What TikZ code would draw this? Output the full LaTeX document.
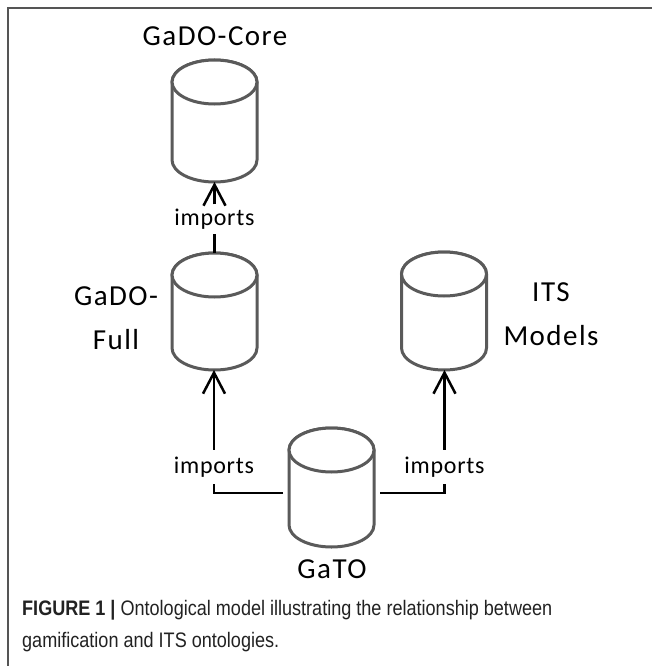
\documentclass[tikz,border=0pt]{standalone}
\usepackage{fontspec}
\setmainfont{Carlito}
\newfontfamily\capfont{Liberation Sans}[FakeStretch=0.86]
\usetikzlibrary{arrows.meta,calc}
\definecolor{cylgray}{HTML}{5A5A5A}
\definecolor{framegray}{HTML}{555555}
\definecolor{captext}{HTML}{222222}
\newcommand\dbcyl[4]{% name, cx, top, bottom
  \node[minimum width=85pt, minimum height={(#4-#3)*1pt}, inner sep=0pt, outer sep=0pt] (#1) at (#2,{(#3+#4)/2}) {};
  \path[cyl] ({#2-42.5},{#3+22}) -- ({#2-42.5},{#4-22})
     arc[start angle=180,end angle=360,x radius=42.5pt,y radius=22pt]
     -- ({#2+42.5},{#3+22})
     arc[start angle=0,end angle=180,x radius=42.5pt,y radius=22pt] -- cycle;
  \draw[cyl] (#2,{#3+22}) ellipse[x radius=42.5pt,y radius=22pt];
}
\begin{document}
\begin{tikzpicture}[x=1pt,y=-1pt,
  cyl/.style={draw=cylgray, line width=3pt, fill=white},
  conn/.style={draw=black, line width=2.5pt},
  arr/.style={-{Straight Barb[length=21pt,width=22pt]}},
  big/.style={font=\fontsize{29}{44}\selectfont\addfontfeatures{LetterSpace=5}, align=center, inner sep=0pt},
  imp/.style={font=\fontsize{24}{28}\selectfont\addfontfeatures{LetterSpace=3}, fill=white, text height=17pt, text depth=5pt, inner xsep=2pt},
  capstyle/.style={font=\capfont\fontsize{21}{24}\selectfont, text=captext, inner sep=0pt}
]
\useasboundingbox (0,0) rectangle (652,666);
\fill[white] (0,0) rectangle (652,666);
\draw[framegray, line width=2pt] (8,666) -- (8,8) -- (652,8);

\dbcyl{core}{214.5}{60}{182}
\dbcyl{full}{214.5}{253}{370}
\dbcyl{its}{444}{252}{370}
\dbcyl{gato}{331.5}{428}{547}

\node[big, anchor=base] (tcore) at (215,46) {GaDO-Core};
\node[big] (tfull) at (116,318) {GaDO-\\Full};
\node[big] (tits) at (551,314) {ITS\\Models};
\node[big, anchor=base] (tgato) at (332,578) {GaTO};

\node[imp, inner ysep=3.5pt] (impT) at (214.5,219) {imports};
\node[imp, inner ysep=6pt] (impL) at (214,467) {imports};
\node[imp, inner ysep=6pt] (impR) at (444.5,467) {imports};

\draw[conn] (full.north) -- (impT.south);
\draw[conn, arr] (impT.north) -- (core.south);
\draw[conn] ([shift={(-6pt,-5.5pt)}]gato.west) -| (impL.south);
\draw[conn, arr] (impL.north) -- (impL.north |- full.south);
\draw[conn] ([shift={(6pt,-5.5pt)}]gato.east) -| (impR.south);
\draw[conn, arr] (impR.north) -- (impR.north |- its.south);

\node[capstyle, anchor=base west] (cap1) at (22,615) {\textbf{FIGURE 1 |} Ontological model illustrating the relationship between};
\node[capstyle, anchor=base west] (cap2) at (22,647) {gamification and ITS ontologies.};
\end{tikzpicture}
\end{document}
